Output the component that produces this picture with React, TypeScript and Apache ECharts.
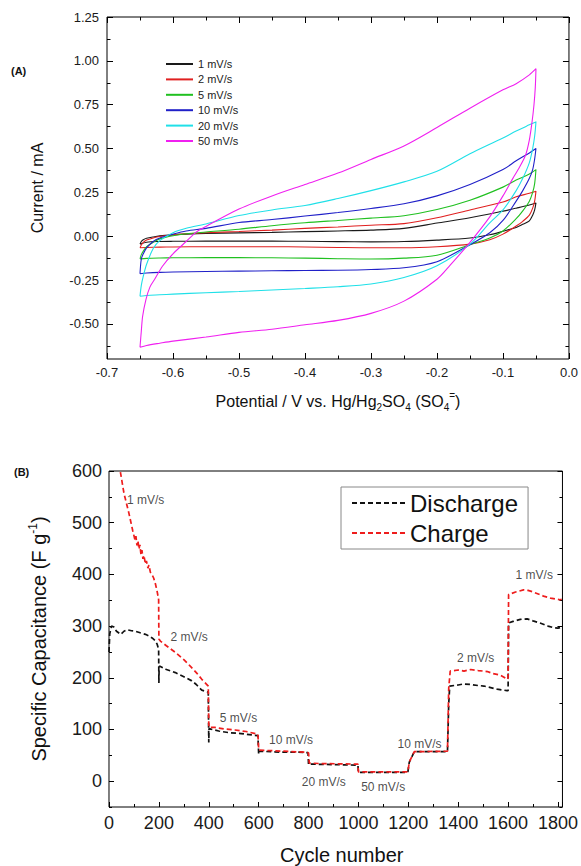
import React, { useEffect, useRef } from 'react';
import * as echarts from 'echarts';

const FONT = '"Liberation Sans", Arial, Helvetica, sans-serif';

// ---------- (A) cyclic voltammograms ----------
const cvNames = ['1 mV/s', '2 mV/s', '5 mV/s', '10 mV/s', '20 mV/s', '50 mV/s'];
const cvColors = ['#1a1a1a', '#e02020', '#20c020', '#2020c8', '#20e0e8', '#f020f0'];

// anodic (forward) sweep potentials and cathodic (reverse) sweep potentials, V
const upperPotential = [-0.65, -0.648, -0.645, -0.64, -0.63, -0.62, -0.6, -0.58, -0.55, -0.5, -0.45, -0.4, -0.35, -0.3, -0.25, -0.2, -0.15, -0.1, -0.08, -0.06, -0.05];
const lowerPotential = [-0.05, -0.052, -0.055, -0.06, -0.07, -0.08, -0.1, -0.12, -0.15, -0.2, -0.25, -0.3, -0.35, -0.4, -0.45, -0.5, -0.55, -0.6, -0.62, -0.64, -0.65];

const cv1Upper = [-0.045, -0.03, -0.02, -0.012, -0.004, 0.002, 0.008, 0.012, 0.016, 0.019, 0.022, 0.026, 0.03, 0.035, 0.045, 0.075, 0.105, 0.143, 0.16, 0.178, 0.19];
const cv1Lower = [0.19, 0.15, 0.12, 0.088, 0.068, 0.05, 0.028, 0.008, -0.01, -0.022, -0.03, -0.032, -0.031, -0.029, -0.028, -0.028, -0.028, -0.029, -0.03, -0.034, -0.045];

const cv2Upper = [-0.066, -0.05, -0.035, -0.022, -0.01, -0.002, 0.008, 0.014, 0.02, 0.027, 0.035, 0.045, 0.053, 0.063, 0.072, 0.105, 0.15, 0.195, 0.225, 0.245, 0.257];
const cv2Lower = [0.257, 0.2, 0.16, 0.12, 0.085, 0.058, 0.012, -0.02, -0.045, -0.06, -0.066, -0.066, -0.064, -0.061, -0.06, -0.06, -0.06, -0.061, -0.062, -0.064, -0.066];

const cv5Upper = [-0.129, -0.105, -0.085, -0.06, -0.035, -0.015, 0.003, 0.014, 0.024, 0.04, 0.06, 0.077, 0.09, 0.103, 0.117, 0.152, 0.205, 0.28, 0.32, 0.355, 0.38];
const cv5Lower = [0.38, 0.3, 0.25, 0.2, 0.145, 0.1, 0.03, -0.01, -0.048, -0.108, -0.125, -0.13, -0.128, -0.125, -0.123, -0.122, -0.122, -0.123, -0.124, -0.126, -0.129];

const cv10Upper = [-0.214, -0.13, -0.1, -0.066, -0.03, -0.01, 0.012, 0.03, 0.045, 0.078, 0.095, 0.115, 0.135, 0.158, 0.185, 0.23, 0.295, 0.38, 0.43, 0.475, 0.5];
const cv10Lower = [0.5, 0.44, 0.38, 0.33, 0.26, 0.2, 0.09, 0.02, -0.048, -0.145, -0.18, -0.19, -0.194, -0.195, -0.197, -0.199, -0.201, -0.204, -0.206, -0.21, -0.214];

const cv20Upper = [-0.342, -0.28, -0.228, -0.16, -0.07, -0.025, 0.02, 0.045, 0.07, 0.118, 0.15, 0.175, 0.215, 0.26, 0.31, 0.37, 0.47, 0.56, 0.6, 0.635, 0.652];
const cv20Lower = [0.652, 0.57, 0.5, 0.42, 0.33, 0.26, 0.15, 0.076, -0.045, -0.168, -0.235, -0.272, -0.288, -0.298, -0.307, -0.315, -0.322, -0.33, -0.334, -0.338, -0.342];

const cv50UpperPotential = [-0.65, -0.648, -0.646, -0.641, -0.635, -0.628, -0.616, -0.6, -0.58, -0.565, -0.55, -0.5, -0.45, -0.4, -0.35, -0.3, -0.25, -0.2, -0.15, -0.1, -0.08, -0.06, -0.05];
const cv50Upper = [-0.633, -0.54, -0.456, -0.361, -0.29, -0.247, -0.171, -0.1, -0.03, 0.023, 0.056, 0.155, 0.23, 0.295, 0.36, 0.438, 0.515, 0.62, 0.73, 0.835, 0.87, 0.92, 0.955];
const cv50LowerPotential = [-0.05, -0.051, -0.053, -0.056, -0.06, -0.066, -0.077, -0.085, -0.1, -0.12, -0.15, -0.18, -0.2, -0.25, -0.3, -0.35, -0.4, -0.45, -0.5, -0.55, -0.6, -0.62, -0.64, -0.65];
const cv50Lower = [0.955, 0.85, 0.75, 0.65, 0.55, 0.46, 0.38, 0.33, 0.23, 0.11, -0.035, -0.165, -0.245, -0.37, -0.44, -0.48, -0.505, -0.53, -0.548, -0.575, -0.598, -0.61, -0.623, -0.633];

const cvYMajor = [-0.5, -0.25, 0, 0.25, 0.5, 0.75, 1.0, 1.25];
const cvYMinor = [-0.625, -0.375, -0.125, 0.125, 0.375, 0.625, 0.875, 1.125];

// ---------- (B) specific capacitance vs cycle ----------
const dischargeCycle = [0, 3, 10, 20, 30, 47, 60, 73, 90, 106, 125, 146, 160, 173, 185, 193, 199, 200, 201, 206, 230, 266, 300, 332, 350, 372, 398, 400, 401, 405, 440, 478, 530, 597, 600, 602, 650, 700, 760, 798, 800, 806, 900, 998, 1000, 1100, 1198, 1204, 1224, 1300, 1357, 1362, 1366, 1400, 1420, 1450, 1480, 1503, 1530, 1556, 1596, 1600, 1602, 1620, 1649, 1676, 1700, 1728, 1760, 1782, 1800, 1815];
const dischargeValue = [250, 285, 300, 298, 290, 284, 290, 293, 291, 290, 287, 284, 281, 277, 272, 265, 255, 190, 222, 222, 216, 210, 202, 194, 187, 176, 172, 75, 102, 101, 97, 94, 92, 88, 52, 58, 57, 56, 56, 55, 32, 33, 32, 31, 17, 17, 17, 37, 57, 57, 57, 150, 184, 186, 188, 187, 185, 184, 181, 178, 175, 175, 306, 309, 313, 314, 310, 306, 300, 297, 296, 298];

const chargeCycle = [20, 30, 45, 60, 80, 95, 104, 108, 112, 116, 120, 124, 128, 132, 136, 140, 146, 150, 156, 160, 166, 172, 179, 186, 193, 199, 200, 206, 230, 266, 300, 319, 350, 372, 398, 400, 401, 425, 460, 505, 550, 597, 600, 602, 650, 700, 783, 800, 803, 850, 998, 1000, 1198, 1204, 1224, 1357, 1362, 1368, 1400, 1423, 1450, 1480, 1517, 1540, 1569, 1598, 1600, 1602, 1630, 1662, 1680, 1700, 1742, 1770, 1808, 1815];
const chargeValue = [690, 650, 600, 557, 518, 485, 467, 474, 456, 465, 449, 457, 439, 447, 430, 437, 420, 426, 412, 418, 404, 400, 393, 382, 367, 351, 275, 271, 262, 249, 235, 226, 210, 197, 184, 110, 104, 104, 101, 99, 96, 91, 62, 60, 59, 58, 56, 55, 35, 34, 33, 18, 18, 37, 57, 58, 180, 213, 215, 213, 216, 214, 212, 208, 205, 197, 200, 361, 366, 370, 369, 366, 358, 354, 351, 352];

const rateText = ['1 mV/s', '2 mV/s', '5 mV/s', '10 mV/s', '20 mV/s', '50 mV/s', '10 mV/s', '2 mV/s', '1 mV/s'];
const rateCycle = [147, 321, 519, 730, 861, 1099, 1245, 1470, 1705];
const rateValue = [543, 278, 123, 80, -1, -11, 72, 238, 398];

const capYMajor = [0, 100, 200, 300, 400, 500, 600];
const capYMinor = [-50, 50, 150, 250, 350, 450, 550];

function pairs(xs: number[], ys: number[]) {
  return xs.map((x, i) => [x, ys[i]]);
}

function loop(up: number[], upV: number[], lo: number[], loV: number[]) {
  return [...pairs(up, upV), ...pairs(lo, loV)];
}

const cvLoops = [
  loop(upperPotential, cv1Upper, lowerPotential, cv1Lower),
  loop(upperPotential, cv2Upper, lowerPotential, cv2Lower),
  loop(upperPotential, cv5Upper, lowerPotential, cv5Lower),
  loop(upperPotential, cv10Upper, lowerPotential, cv10Lower),
  loop(upperPotential, cv20Upper, lowerPotential, cv20Lower),
  loop(cv50UpperPotential, cv50Upper, cv50LowerPotential, cv50Lower),
];

function tickAxis(gridIndex: number, position: string, min: number, max: number, values: number[], length: number) {
  return {
    type: 'value',
    gridIndex,
    position,
    min,
    max,
    axisLine: { show: false, onZero: false },
    splitLine: { show: false },
    axisLabel: { show: false },
    axisTick: { show: true, inside: true, length, customValues: values, lineStyle: { color: '#000', width: 1 } },
  };
}

export default function App() {
  const ref = useRef<HTMLDivElement>(null);

  useEffect(() => {
    document.body.style.margin = '0';
    const chart = echarts.init(ref.current as HTMLDivElement, null, { renderer: 'svg' });

    const labelStyleTop = { fontSize: 13, color: '#1a1a1a', fontFamily: FONT };
    const labelStyleBottom = { fontSize: 18, color: '#1a1a1a', fontFamily: FONT };

    const option: any = {
      animation: false,
      backgroundColor: '#fff',
      textStyle: { fontFamily: FONT },
      grid: [
        { left: 107, top: 17, width: 462, height: 342, show: true, borderColor: '#000', borderWidth: 1, backgroundColor: 'transparent' },
        { left: 109, top: 471, width: 456, height: 337, show: true, borderColor: '#000', borderWidth: 1, backgroundColor: 'transparent' },
      ],
      legend: [
        {
          data: cvNames,
          orient: 'vertical',
          left: 165,
          top: 57,
          itemWidth: 27,
          itemHeight: 14,
          itemGap: 1.4,
          padding: 0,
          itemStyle: { opacity: 0 },
          textStyle: { fontSize: 11, color: '#222', fontFamily: FONT, lineHeight: 14 },
        },
        {
          data: ['Discharge', 'Charge'],
          orient: 'vertical',
          left: 341,
          top: 487,
          padding: [4, 10, 4, 10],
          itemWidth: 53,
          itemHeight: 24,
          itemGap: 6,
          borderColor: '#888',
          borderWidth: 1,
          itemStyle: { opacity: 0 },
          textStyle: { fontSize: 24, color: '#111', fontFamily: FONT, lineHeight: 24 },
        },
      ],
      xAxis: [
        {
          type: 'value',
          gridIndex: 0,
          position: 'bottom',
          min: -0.7,
          max: 0,
          interval: 0.1,
          axisLine: { show: false, onZero: false },
          splitLine: { show: false },
          axisTick: { show: true, inside: true, length: 6, lineStyle: { color: '#000' } },
          minorTick: { show: true, splitNumber: 2, length: 3.5, lineStyle: { color: '#000' } },
          axisLabel: { ...labelStyleTop, margin: 7, formatter: (v: number) => v.toFixed(1) },
          name: 'Potential / V vs. Hg/Hg{sub|2}SO{sub|4} (SO{sub|4}{sup|=})',
          nameLocation: 'middle',
          nameGap: 31,
          nameTextStyle: {
            fontSize: 16,
            color: '#111',
            fontFamily: FONT,
            lineHeight: 22,
            rich: {
              sub: { fontSize: 10, lineHeight: 12, verticalAlign: 'bottom', fontFamily: FONT, color: '#111' },
              sup: { fontSize: 10, lineHeight: 12, verticalAlign: 'top', fontFamily: FONT, color: '#111' },
            },
          },
        },
        {
          type: 'value',
          gridIndex: 0,
          position: 'top',
          min: -0.7,
          max: 0,
          interval: 0.1,
          axisLine: { show: false, onZero: false },
          splitLine: { show: false },
          axisLabel: { show: false },
          axisTick: { show: true, inside: true, length: 6, lineStyle: { color: '#000' } },
          minorTick: { show: true, splitNumber: 2, length: 3.5, lineStyle: { color: '#000' } },
        },
        {
          type: 'value',
          gridIndex: 1,
          position: 'bottom',
          min: 0,
          max: 1818,
          interval: 200,
          axisLine: { show: false, onZero: false },
          splitLine: { show: false },
          axisTick: { show: true, inside: true, length: 5, lineStyle: { color: '#000' } },
          minorTick: { show: true, splitNumber: 2, length: 3, lineStyle: { color: '#000' } },
          axisLabel: { ...labelStyleBottom, margin: 7, formatter: (v: number) => (v % 200 === 0 ? String(v) : '') },
          name: 'Cycle number',
          nameLocation: 'middle',
          nameGap: 38,
          nameTextStyle: { fontSize: 20, color: '#111', fontFamily: FONT, padding: [0, 0, 0, 12] },
        },
      ],
      yAxis: [
        {
          type: 'value',
          gridIndex: 0,
          position: 'left',
          min: -0.7,
          max: 1.25,
          axisLine: { show: false, onZero: false },
          splitLine: { show: false },
          axisTick: { show: true, inside: true, length: 6, customValues: cvYMajor, lineStyle: { color: '#000' } },
          axisLabel: { ...labelStyleTop, margin: 8, customValues: cvYMajor, formatter: (v: number) => v.toFixed(2) },
          name: 'Current / mA',
          nameLocation: 'middle',
          nameGap: 62,
          nameTextStyle: { fontSize: 16, color: '#111', fontFamily: FONT },
        },
        tickAxis(0, 'left', -0.7, 1.25, cvYMinor, 3.5),
        tickAxis(0, 'right', -0.7, 1.25, cvYMajor, 6),
        tickAxis(0, 'right', -0.7, 1.25, cvYMinor, 3.5),
        {
          type: 'value',
          gridIndex: 1,
          position: 'left',
          min: -50,
          max: 600,
          axisLine: { show: false, onZero: false },
          splitLine: { show: false },
          axisTick: { show: true, inside: true, length: 5, customValues: capYMajor, lineStyle: { color: '#000' } },
          axisLabel: { ...labelStyleBottom, margin: 7, customValues: capYMajor },
          name: 'Specific Capacitance (F g{sup|-1})',
          nameLocation: 'middle',
          nameGap: 58,
          nameTextStyle: {
            fontSize: 20,
            color: '#111',
            fontFamily: FONT,
            lineHeight: 24,
            rich: {
              sup: { fontSize: 12, lineHeight: 12, verticalAlign: 'top', fontFamily: FONT, color: '#111' },
            },
          },
        },
        tickAxis(1, 'left', -50, 600, capYMinor, 3),
        tickAxis(1, 'right', -50, 600, capYMajor, 5),
        tickAxis(1, 'right', -50, 600, capYMinor, 3),
      ],
      graphic: [
        { type: 'text', left: 11, top: 65, style: { text: '(A)', fontSize: 11, fontWeight: 'bold', fill: '#111', fontFamily: FONT } },
        { type: 'text', left: 14, top: 466, style: { text: '(B)', fontSize: 11, fontWeight: 'bold', fill: '#111', fontFamily: FONT } },
      ],
      series: [
        ...cvLoops.map((d, i) => ({
          name: cvNames[i],
          type: 'line',
          xAxisIndex: 0,
          yAxisIndex: 0,
          data: d,
          symbol: 'none',
          smooth: 0.3,
          lineStyle: { color: cvColors[i], width: 1.1 },
          itemStyle: { color: cvColors[i] },
          z: 3,
        })),
        {
          name: 'Discharge',
          type: 'line',
          xAxisIndex: 2,
          yAxisIndex: 4,
          data: pairs(dischargeCycle, dischargeValue),
          symbol: 'none',
          lineStyle: { color: '#111', width: 1.7, type: [5, 3] },
          itemStyle: { color: '#111' },
          z: 3,
        },
        {
          name: 'Charge',
          type: 'line',
          xAxisIndex: 2,
          yAxisIndex: 4,
          data: pairs(chargeCycle, chargeValue),
          symbol: 'none',
          lineStyle: { color: '#ee1c1c', width: 1.7, type: [5, 3] },
          itemStyle: { color: '#ee1c1c' },
          z: 4,
        },
        {
          name: 'rates',
          type: 'scatter',
          xAxisIndex: 2,
          yAxisIndex: 4,
          silent: true,
          symbolSize: 1,
          itemStyle: { color: 'transparent' },
          data: rateCycle.map((c, i) => ({ value: [c, rateValue[i]], name: rateText[i] })),
          label: {
            show: true,
            position: 'inside',
            formatter: (p: any) => p.name,
            fontSize: 12,
            color: '#1a1a1a',
            fontFamily: FONT,
          },
          z: 5,
        },
      ],
    };

    chart.setOption(option);
    return () => chart.dispose();
  }, []);

  return <div ref={ref} style={{ width: 581, height: 866 }} />;
}
